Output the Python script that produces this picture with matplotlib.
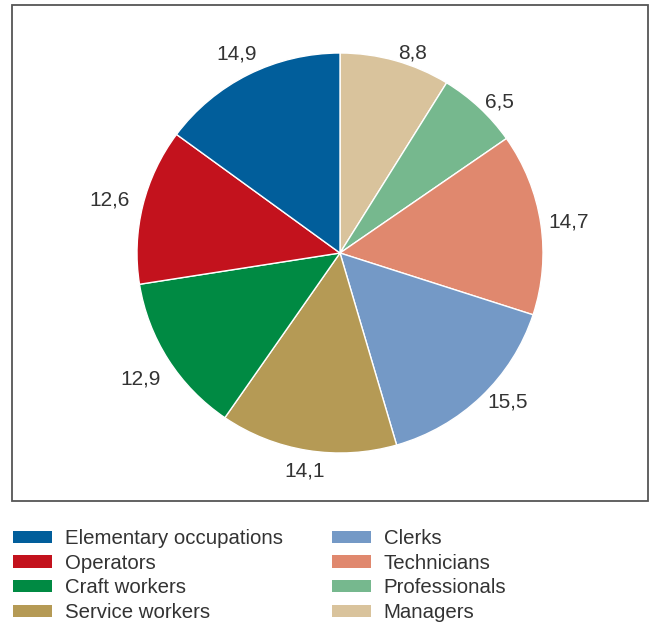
import matplotlib
matplotlib.use("Agg")
import numpy as np
import matplotlib.pyplot as plt
from matplotlib.patches import Rectangle, Patch

plt.rcParams['font.family'] = ['Liberation Sans', 'DejaVu Sans']

# shares by occupation group, clockwise from 12 o'clock
groups = ['Managers', 'Professionals', 'Technicians', 'Clerks',
          'Service workers', 'Craft workers', 'Operators', 'Elementary occupations']
shares = [8.8, 6.5, 14.7, 15.5, 14.1, 12.9, 12.6, 14.9]
colors = ['#d9c39c', '#76b88e', '#e0886e', '#7499c6',
          '#b59a55', '#008a43', '#c3121d', '#015e9b']

col1 = ['Elementary occupations', 'Operators', 'Craft workers', 'Service workers']
col2 = ['Clerks', 'Technicians', 'Professionals', 'Managers']

W, H = 653, 622
fig = plt.figure(figsize=(W / 100, H / 100), dpi=100)

# outer frame around the pie
fig.patches.append(Rectangle((12 / W, (H - 501) / H), 636 / W, 496 / H,
                             transform=fig.transFigure, fill=False,
                             edgecolor='#555555', linewidth=1.3))

# pie is drawn a touch wider than tall
cx, cy, rx, ry = 340, 253, 203, 200
ax = fig.add_axes([(cx - rx) / W, (H - cy - ry) / H, 2 * rx / W, 2 * ry / H])
labels = [f'{v:.1f}'.replace('.', ',') for v in shares]
wedges, texts = ax.pie(shares, colors=colors, labels=labels, startangle=90,
                       counterclock=False, labeldistance=1.0, radius=1,
                       wedgeprops=dict(edgecolor='white', linewidth=1),
                       textprops=dict(fontsize=15, color='#333333'))
# right-hand labels start just outside the rim; the rest are centred
# and pushed out far enough that the text clears the wedge
for t in texts:
    x, y = t.get_position()
    a = np.arctan2(y, x)
    if np.cos(a) > 0.1:
        d = 1.04
        t.set_ha('left')
        t.set_va('center')
    else:
        d = 1.035 + 0.125 * abs(np.cos(a)) + 0.04 * abs(np.sin(a))
        t.set_ha('center')
        t.set_va('center_baseline')
    t.set_position((d * np.cos(a), d * np.sin(a)))
ax.set_xlim(-1, 1)
ax.set_ylim(-1, 1)
ax.set_aspect('auto')

cmap = dict(zip(groups, colors))

def column(names, x):
    handles = [Patch(facecolor=cmap[n], edgecolor='none') for n in names]
    leg = fig.legend(handles, names, loc='upper left',
                     bbox_to_anchor=(x / W, (H - 529) / H),
                     frameon=False, fontsize=14.7, borderpad=0, borderaxespad=0,
                     handlelength=1.92, handleheight=0.55, handletextpad=0.62,
                     labelspacing=0.28, labelcolor='#333333')
    return leg

column(col1, 13)
column(col2, 332)

fig.savefig('out.png', dpi=100)
